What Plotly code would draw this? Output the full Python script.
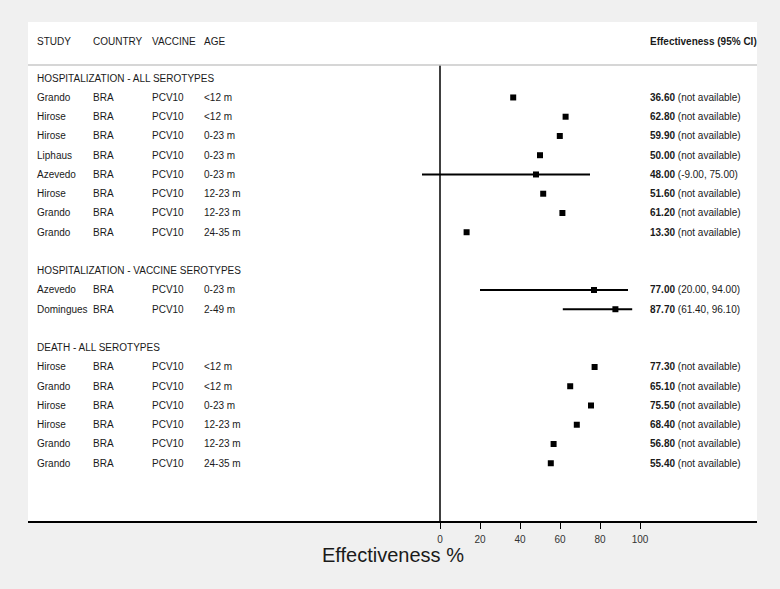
import plotly.graph_objects as go

# Données du forest plot
sections = ["HOSPITALIZATION - ALL SEROTYPES",
            "HOSPITALIZATION - VACCINE SEROTYPES",
            "DEATH - ALL SEROTYPES"]
section_of_row = [0, 0, 0, 0, 0, 0, 0, 0, 1, 1, 2, 2, 2, 2, 2, 2]
studies = ["Grando", "Hirose", "Hirose", "Liphaus", "Azevedo", "Hirose", "Grando", "Grando",
           "Azevedo", "Domingues",
           "Hirose", "Grando", "Hirose", "Hirose", "Grando", "Grando"]
countries = ["BRA"] * 16
vaccines = ["PCV10"] * 16
ages = ["<12 m", "<12 m", "0-23 m", "0-23 m", "0-23 m", "12-23 m", "12-23 m", "24-35 m",
        "0-23 m", "2-49 m",
        "<12 m", "<12 m", "0-23 m", "12-23 m", "12-23 m", "24-35 m"]
effectiveness = [36.60, 62.80, 59.90, 50.00, 48.00, 51.60, 61.20, 13.30,
                 77.00, 87.70,
                 77.30, 65.10, 75.50, 68.40, 56.80, 55.40]
ci_low = [None, None, None, None, -9.00, None, None, None,
          20.00, 61.40,
          None, None, None, None, None, None]
ci_high = [None, None, None, None, 75.00, None, None, None,
           94.00, 96.10,
           None, None, None, None, None, None]
x_ticks = [0, 20, 40, 60, 80, 100]

# Position des lignes (en-tête de section + études + ligne vide)
row_y = []
section_y = []
y = 0
prev = None
for s in section_of_row:
    if s != prev:
        if prev is not None:
            y += 1
        section_y.append(y)
        y += 1
        prev = s
    row_y.append(y)
    y += 1

FONT = "Liberation Sans, Arial, sans-serif"
TXT = "#1a1a1a"

fig = go.Figure()

# Intervalles de confiance
for yy, lo, hi in zip(row_y, ci_low, ci_high):
    if lo is not None:
        fig.add_trace(go.Scatter(x=[lo, hi], y=[yy, yy], mode="lines",
                                 line=dict(color="black", width=2),
                                 showlegend=False, hoverinfo="skip"))

# Estimations ponctuelles
fig.add_trace(go.Scatter(
    x=effectiveness, y=row_y, mode="markers",
    marker=dict(symbol="square", size=6, color="black"),
    showlegend=False
))

# Lignes de référence
fig.add_shape(type="line", xref="x", yref="y", x0=0, x1=0, y0=-0.68, y1=23.0,
              line=dict(color="black", width=1.5))
fig.add_shape(type="line", xref="paper", yref="y", x0=0, x1=1, y0=-0.68, y1=-0.68,
              line=dict(color="#c8c8c8", width=1.5))

col_x = [0.0096, 0.0865, 0.1676, 0.2390]
value_x = 0.8503


def txt(x, y, text, size=10):
    fig.add_annotation(x=x, y=y, xref="paper", yref="y", text=text, showarrow=False,
                       xanchor="left", yanchor="middle",
                       font=dict(family=FONT, size=size, color=TXT))


# En-têtes
for x, h in zip(col_x, ["STUDY", "COUNTRY", "VACCINE", "AGE"]):
    txt(x, -1.93, h)
txt(value_x, -1.93, "<b>Effectiveness (95% CI)</b>")

for sy, name in zip(section_y, sections):
    txt(col_x[0], sy, name)

for i, yy in enumerate(row_y):
    for x, v in zip(col_x, [studies[i], countries[i], vaccines[i], ages[i]]):
        txt(x, yy, v)
    if ci_low[i] is None:
        ci = "(not available)"
    else:
        ci = f"({ci_low[i]:.2f}, {ci_high[i]:.2f})"
    txt(value_x, yy, f"<b>{effectiveness[i]:.2f}</b> {ci}")

# Titre de l'axe X
fig.add_annotation(x=0.5, y=-0.069, xref="paper", yref="paper",
                   text="Effectiveness %", showarrow=False,
                   xanchor="center", yanchor="middle",
                   font=dict(family=FONT, size=20, color=TXT))

fig.update_layout(
    width=780, height=589,
    margin=dict(l=28, r=23, t=22, b=68),
    paper_bgcolor="#f0f0f0",
    plot_bgcolor="white",
    showlegend=False,
    xaxis=dict(
        range=[-206, 158.5],
        tickvals=x_ticks,
        ticks="outside", ticklen=6, tickcolor="black",
        ticklabelstandoff=2,
        tickfont=dict(family=FONT, size=10, color="#333333"),
        showgrid=False, zeroline=False,
        showline=True, linecolor="black", linewidth=1.5,
    ),
    yaxis=dict(range=[23.0, -2.92], visible=False, showgrid=False, zeroline=False),
)

fig.write_html("out.html",
               config={"displayModeBar": False},
               post_script="document.body.style.margin='0';"
                           "document.body.style.background='#f0f0f0';")
